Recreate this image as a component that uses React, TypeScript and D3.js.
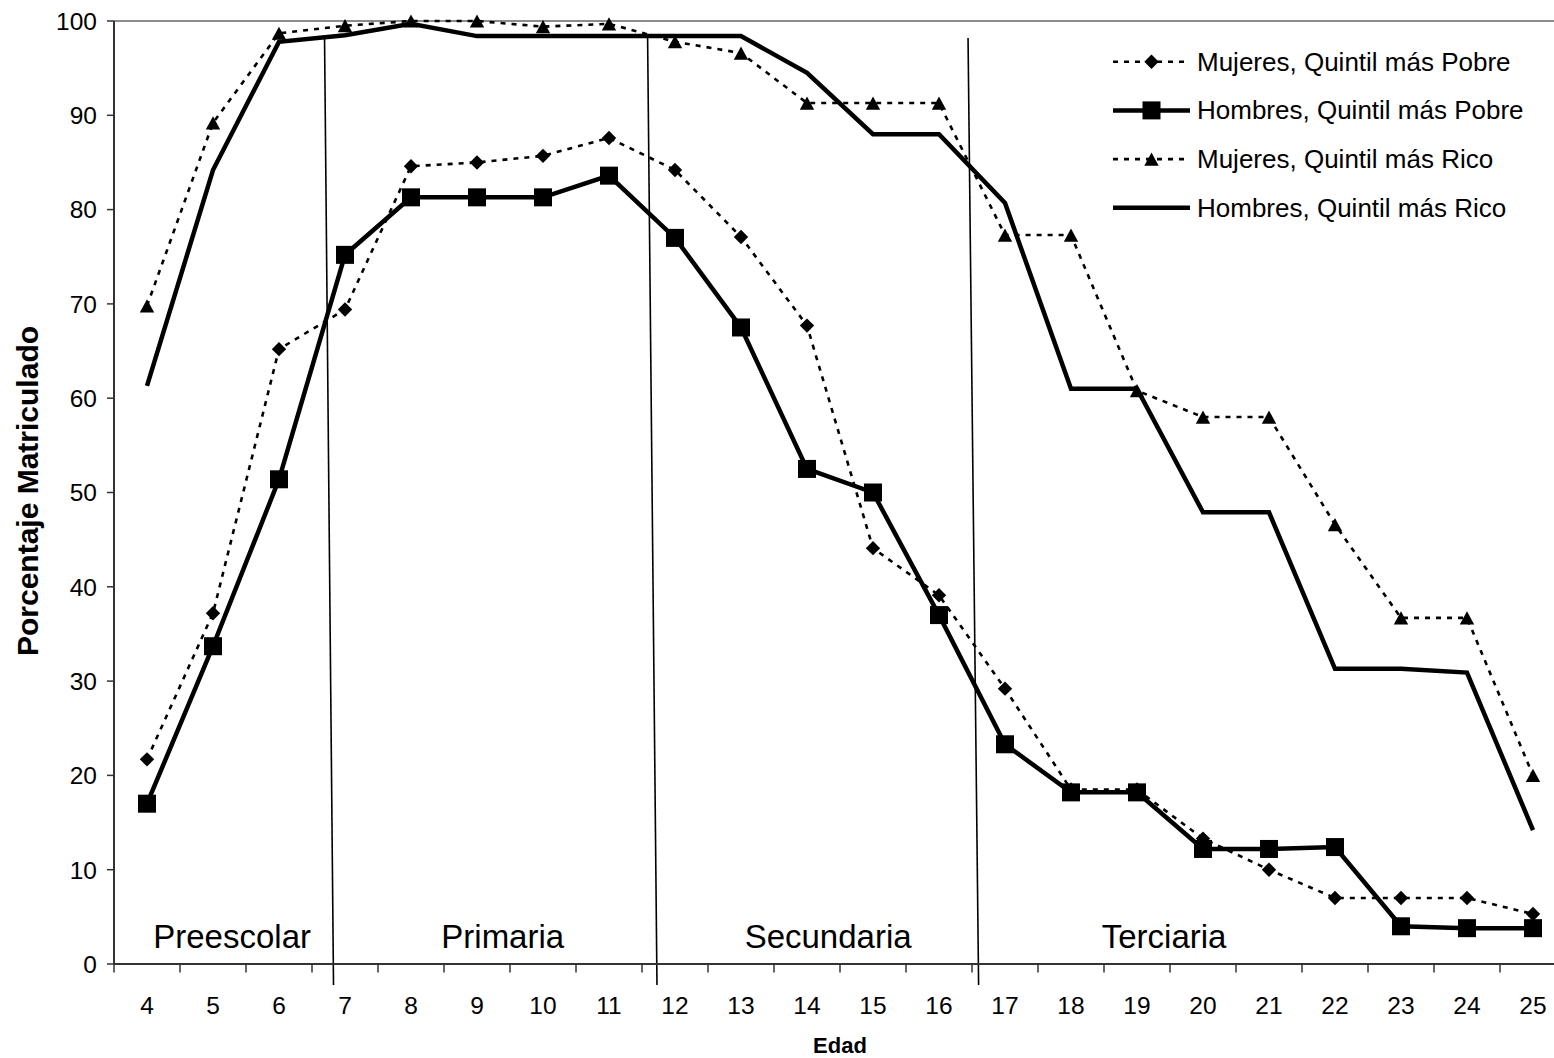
import React from "react";
import * as d3 from "d3";

const ages = [4,5,6,7,8,9,10,11,12,13,14,15,16,17,18,19,20,21,22,23,24,25];
const mujeresPobre = [21.7,37.2,65.2,69.4,84.6,85.0,85.7,87.6,84.2,77.1,67.7,44.1,39.1,29.2,18.5,18.5,13.3,10.0,7.0,7.0,7.0,5.3];
const hombresPobre = [17.0,33.7,51.4,75.2,81.3,81.3,81.3,83.6,77.0,67.5,52.5,50.0,37.0,23.3,18.2,18.2,12.2,12.2,12.4,4.0,3.8,3.8];
const mujeresRico = [69.8,89.2,98.7,99.5,100,100,99.4,99.7,97.8,96.6,91.3,91.3,91.3,77.3,77.3,60.8,58.0,58.0,46.6,36.7,36.7,20.0];
const hombresRico = [61.3,84.2,97.8,98.5,99.7,98.4,98.4,98.4,98.4,98.4,94.5,88.0,88.0,80.7,61.0,61.0,47.9,47.9,31.3,31.3,30.9,14.2];
const yTicks = [0,10,20,30,40,50,60,70,80,90,100];
const seriesNames = ["Mujeres, Quintil más Pobre","Hombres, Quintil más Pobre","Mujeres, Quintil más Rico","Hombres, Quintil más Rico"];
const sectionLabels = ["Preescolar","Primaria","Secundaria","Terciaria"];
const sectionCenters = [5.29, 9.39, 14.32, 19.41];
const dividerTop = [6.69, 11.585, 16.44];
const dividerBottom = [6.826, 11.727, 16.60];

const W = 1554, H = 1058;
const FONT = "'Liberation Sans', Arial, Helvetica, sans-serif";

const series = [
  { name: seriesNames[0], values: mujeresPobre, dashed: true, marker: "diamond" },
  { name: seriesNames[1], values: hombresPobre, dashed: false, marker: "square" },
  { name: seriesNames[2], values: mujeresRico, dashed: true, marker: "triangle" },
  { name: seriesNames[3], values: hombresRico, dashed: false, marker: "none" },
];

function Marker({ type, cx, cy }: { type: string; cx: number; cy: number }) {
  if (type === "diamond") {
    const r = 7.2;
    return <path d={`M${cx},${cy - r}L${cx + r},${cy}L${cx},${cy + r}L${cx - r},${cy}Z`} fill="#000" />;
  }
  if (type === "square") {
    const s = 18;
    return <rect x={cx - s / 2} y={cy - s / 2} width={s} height={s} fill="#000" />;
  }
  if (type === "triangle") {
    const hw = 7.2, hh = 6.6;
    return <path d={`M${cx},${cy - hh}L${cx + hw},${cy + hh}L${cx - hw},${cy + hh}Z`} fill="#000" />;
  }
  return null;
}

export default function App() {
  const plotLeft = 114, plotRight = 1566, plotTop = 21, plotBottom = 964;
  const x = d3.scaleLinear().domain([ages[0] - 0.5, ages[ages.length - 1] + 0.5]).range([plotLeft, plotRight]);
  const y = d3.scaleLinear().domain([0, 100]).range([plotBottom, plotTop]);
  const line = d3.line<number>().x((_, i) => x(ages[i])).y((d) => y(d));
  const boundaries = d3.range(ages[0] - 0.5, ages[ages.length - 1] + 1, 1);

  const legendX1 = 1113, legendX2 = 1190, legendTextX = 1197;
  const legendY0 = 61.7, legendDy = 48.7;

  return (
    <svg width={W} height={H} style={{ position: "absolute", left: 0, top: 0, background: "#fff" }} fontFamily={FONT}>
      <rect x={0} y={0} width={W} height={H} fill="#fff" />
      <line x1={plotLeft} x2={plotRight} y1={plotTop} y2={plotTop} stroke="#8c8c8c" strokeWidth={2} />
      {dividerTop.map((t, i) => (
        <line key={i} x1={x(t)} y1={y(98.2)} x2={x(dividerBottom[i])} y2={y(-2.23)} stroke="#000" strokeWidth={1.6} />
      ))}
      <line x1={plotLeft} x2={plotLeft} y1={plotTop} y2={plotBottom} stroke="#333" strokeWidth={2} />
      {yTicks.map((t) => (
        <g key={t}>
          <line x1={plotLeft - 7} x2={plotLeft} y1={y(t)} y2={y(t)} stroke="#333" strokeWidth={1.5} />
          <text x={97} y={y(t) + 8.8} textAnchor="end" fontSize={24.5} fill="#000">{t}</text>
        </g>
      ))}
      <line x1={plotLeft} x2={plotRight} y1={plotBottom} y2={plotBottom} stroke="#333" strokeWidth={2} />
      {boundaries.map((b) => (
        <line key={b} x1={x(b)} x2={x(b)} y1={plotBottom} y2={plotBottom + 8.5} stroke="#333" strokeWidth={1.5} />
      ))}
      {ages.map((a) => (
        <text key={a} x={x(a)} y={1014} textAnchor="middle" fontSize={24.5} fill="#000">{a}</text>
      ))}
      {sectionLabels.map((s, i) => (
        <text key={s} x={x(sectionCenters[i])} y={948} textAnchor="middle" fontSize={33} fill="#000">{s}</text>
      ))}
      {series.map((s) => (
        <g key={s.name}>
          <path d={line(s.values) || ""} fill="none" stroke="#000" strokeWidth={s.dashed ? 2.6 : 4.5}
            strokeDasharray={s.dashed ? "5 6" : undefined} strokeLinejoin="miter" />
          {s.values.map((v, i) => (
            <Marker key={i} type={s.marker} cx={x(ages[i])} cy={y(v)} />
          ))}
        </g>
      ))}
      {series.map((s, i) => {
        const ly = legendY0 + i * legendDy;
        return (
          <g key={s.name}>
            <line x1={legendX1} x2={legendX2} y1={ly} y2={ly} stroke="#000" strokeWidth={s.dashed ? 2.6 : 4.5}
              strokeDasharray={s.dashed ? "5 6" : undefined} />
            <Marker type={s.marker} cx={(legendX1 + legendX2) / 2} cy={ly} />
            <text x={legendTextX} y={ly + 9} fontSize={26} fill="#000">{s.name}</text>
          </g>
        );
      })}
      <text x={840} y={1053} textAnchor="middle" fontSize={22} fontWeight="bold" fill="#000">Edad</text>
      <text transform={`translate(38,491) rotate(-90)`} textAnchor="middle" fontSize={30} fontWeight="bold" fill="#000">Porcentaje Matriculado</text>
    </svg>
  );
}
